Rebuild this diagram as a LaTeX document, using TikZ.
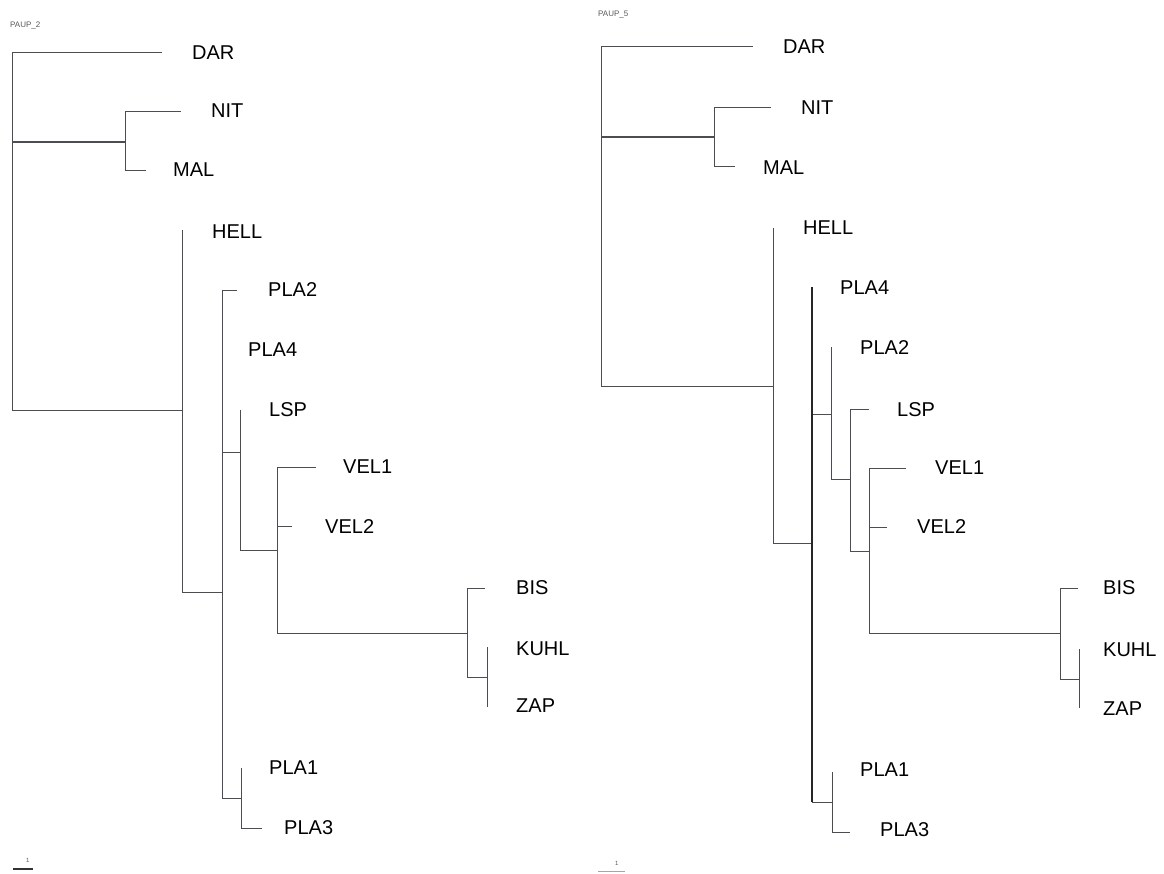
\documentclass[tikz,border=0pt]{standalone}
\usepackage{fontspec}
\setmainfont{Liberation Sans}
\usepackage{tkz-euclide}
\definecolor{BranchClr}{rgb}{0.3,0.3,0.32}
\tikzset{
  branch/.style={line width=0.8pt,color=BranchClr},
  trunk/.style={line width=1.7pt,color=black!85},
  taxlabel/.style={anchor=west,inner sep=0pt,font=\fontsize{20}{24}\selectfont},
  treetag/.style={anchor=west,inner sep=0pt,font=\fontsize{8}{9}\selectfont,color=black!65},
}

\begin{document}
\begin{tikzpicture}[x=1pt,y=-1pt]
\useasboundingbox[fill=white] (0,0) rectangle (1164,873);

% PAUP_2
\tkzDefPoints{12/142/lRoot,162/52/lDAR,125/142/lNM,181/111/lNIT,146/170/lMAL,
  182/410/lIng,182/230/lHELL,222/592/lPl,237/290/lPLAb,222/350/lPLAd,
  240/452/lLv,240/410/lLSP,277/550/lVe,316/467/lVELa,292/526/lVELb,
  467/633/lBk,485/588/lBIS,487/677/lKz,487/647/lKUHL,487/707/lZAP,
  241/798/lPp,241/768/lPLAa,262/828/lPLAc}

\foreach \p/\c in {lRoot/lDAR,lRoot/lNM,lRoot/lIng,lNM/lNIT,lNM/lMAL,
  lIng/lHELL,lIng/lPl,lPl/lPLAb,lPl/lPLAd,lPl/lLv,lPl/lPp,lLv/lLSP,lLv/lVe,
  lVe/lVELa,lVe/lVELb,lVe/lBk,lBk/lBIS,lBk/lKz,lKz/lKUHL,lKz/lZAP,
  lPp/lPLAa,lPp/lPLAc}
  \draw[branch] (\p) |- (\c);
\draw[branch,line width=1.2pt] (lRoot) -- (lNM);

\node[treetag] (ltag) at (10,25) {PAUP\_2};
\node[taxlabel] (ldar) at (192,53) {DAR};
\node[taxlabel] (lnit) at (211,111) {NIT};
\node[taxlabel] (lmal) at (173,170) {MAL};
\node[taxlabel] (lhell) at (212,232) {HELL};
\node[taxlabel] (lpla2) at (268,290) {PLA2};
\node[taxlabel] (lpla4) at (248,350) {PLA4};
\node[taxlabel] (llsp) at (269,410) {LSP};
\node[taxlabel] (lvel1) at (343,467) {VEL1};
\node[taxlabel] (lvel2) at (325,527) {VEL2};
\node[taxlabel] (lbis) at (516,588) {BIS};
\node[taxlabel] (lkuhl) at (516,649) {KUHL};
\node[taxlabel] (lzap) at (516,706) {ZAP};
\node[taxlabel] (lpla1) at (269,768) {PLA1};
\node[taxlabel] (lpla3) at (284,828) {PLA3};

% scale bar
\tkzDefPoints{13/869/lSa,33/869/lSb}
\draw[line width=1.6pt,color=black!80] (lSa) -- (lSb);
\node[treetag,font=\fontsize{6}{7}\selectfont] (lunit) at (26,860) {1};

% PAUP_5
\tkzDefPoints{601/137/rRoot,753/46/rDAR,714/137/rNM,771/107/rNIT,735/166/rMAL,
  773/386/rIng,773/228/rHELL,812/543/rPl,812/287/rPLAd,831/414/rP2,831/347/rPLAb,
  850/479/rLs,869/409/rLSP,869/551/rVe,906/468/rVELa,887/527/rVELb,
  1060/633/rBk,1078/588/rBIS,1079/679/rKz,1079/649/rKUHL,1079/708/rZAP,
  832/802/rPp,832/772/rPLAa,850/832/rPLAc}

\foreach \p/\c in {rRoot/rDAR,rRoot/rNM,rRoot/rIng,rNM/rNIT,rNM/rMAL,
  rIng/rHELL,rIng/rPl,rPl/rPLAd,rPl/rP2,rPl/rPp,rP2/rPLAb,rP2/rLs,
  rLs/rLSP,rLs/rVe,rVe/rVELa,rVe/rVELb,rVe/rBk,rBk/rBIS,rBk/rKz,
  rKz/rKUHL,rKz/rZAP,rPp/rPLAa,rPp/rPLAc}
  \draw[branch] (\p) |- (\c);
\draw[branch,line width=1.2pt] (rRoot) -- (rNM);
\draw[trunk] (rPLAd) -- (rPLAd |- rPp);

\node[treetag] (rtag) at (598,15) {PAUP\_5};
\node[taxlabel] (rdar) at (783,47) {DAR};
\node[taxlabel] (rnit) at (801,108) {NIT};
\node[taxlabel] (rmal) at (763,168) {MAL};
\node[taxlabel] (rhell) at (803,228) {HELL};
\node[taxlabel] (rpla4) at (840,288) {PLA4};
\node[taxlabel] (rpla2) at (860,348) {PLA2};
\node[taxlabel] (rlsp) at (897,410) {LSP};
\node[taxlabel] (rvel1) at (935,468) {VEL1};
\node[taxlabel] (rvel2) at (917,527) {VEL2};
\node[taxlabel] (rbis) at (1103,588) {BIS};
\node[taxlabel] (rkuhl) at (1103,650) {KUHL};
\node[taxlabel] (rzap) at (1103,709) {ZAP};
\node[taxlabel] (rpla1) at (860,770) {PLA1};
\node[taxlabel] (rpla3) at (880,830) {PLA3};

% scale bar
\tkzDefPoints{598/871/rSa,625/871/rSb}
\draw[line width=0.8pt,color=black!35] (rSa) -- (rSb);
\node[treetag,font=\fontsize{6}{7}\selectfont] (runit) at (615,863) {1};

\end{tikzpicture}
\end{document}
